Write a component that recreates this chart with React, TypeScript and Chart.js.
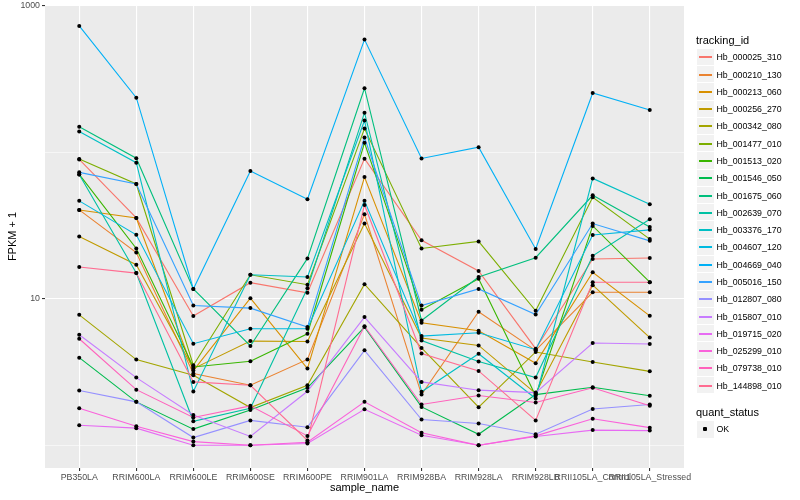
import React, { useEffect, useRef } from "react";
import { Chart, registerables } from "chart.js";

Chart.register(...registerables);

const categories = [
  "PB350LA", "RRIM600LA", "RRIM600LE", "RRIM600SE", "RRIM600PE", "RRIM901LA",
  "RRIM928BA", "RRIM928LA", "RRIM928LB", "RRII105LA_Control", "RRII105LA_Stressed",
];

const trackingIds = [
  "Hb_000025_310", "Hb_000210_130", "Hb_000213_060", "Hb_000256_270", "Hb_000342_080",
  "Hb_001477_010", "Hb_001513_020", "Hb_001546_050", "Hb_001675_060", "Hb_002639_070",
  "Hb_003376_170", "Hb_004607_120", "Hb_004669_040", "Hb_005016_150", "Hb_012807_080",
  "Hb_015807_010", "Hb_019715_020", "Hb_025299_010", "Hb_079738_010", "Hb_144898_010",
];

const seriesColors = [
  "#F8766D", "#EA8331", "#D89000", "#C09B00", "#A3A500", "#7CAE00", "#39B600", "#00BB4E",
  "#00BF7D", "#00C1A3", "#00BFC4", "#00BAE0", "#00B0F6", "#35A2FF", "#9590FF", "#C77CFF",
  "#E76BF3", "#FA62DB", "#FF62BC", "#FF6C91",
];

// FPKM + 1 per sample (same order as categories)
const hb000025_310 = [89.6, 35.7, 7.63, 12.9, 11.0, 90.7, 25.1, 15.5, 4.57, 18.7, 19.0];
const hb000210_130 = [40.5, 20.7, 3.09, 2.57, 3.86, 37.9, 2.22, 8.16, 4.45, 11.1, 11.1];
const hb000213_060 = [40.5, 35.7, 3.24, 10.1, 3.34, 67.9, 6.87, 6.06, 3.64, 15.2, 7.66];
const hb000256_270 = [26.7, 17.1, 3.34, 5.15, 5.12, 32.7, 5.41, 4.81, 2.26, 12.4, 5.44];
const hb000342_080 = [7.78, 3.85, 3.01, 1.81, 2.57, 12.6, 4.62, 1.82, 4.34, 3.71, 3.2];
const hb001477_010 = [90.3, 60.9, 3.52, 14.6, 12.5, 145.6, 22.1, 24.7, 8.29, 49.4, 25.6];
const hb001513_020 = [70.8, 22.1, 3.43, 3.75, 5.78, 116.4, 8.42, 13.7, 2.18, 31.5, 13.0];
const hb001546_050 = [3.97, 1.98, 1.29, 1.74, 2.47, 6.42, 1.83, 1.19, 2.22, 2.49, 2.18];
const hb001675_060 = [149.6, 91.4, 11.7, 4.77, 18.9, 274.6, 7.12, 14.1, 19.1, 51.0, 31.0];
const hb002639_070 = [70.8, 15.0, 1.46, 1.79, 11.8, 187, 5.2, 3.73, 2.9, 19.7, 35.0];
const hb003376_170 = [139, 85.1, 2.33, 14.6, 14.1, 165, 2.32, 4.22, 2.09, 66.5, 44.3];
const hb004607_120 = [46.7, 27.4, 4.94, 6.25, 6.25, 46.7, 5.57, 5.87, 4.5, 27.3, 29.6];
const hb004669_040 = [731, 236.6, 11.7, 74.6, 47.9, 590, 91, 108.6, 21.9, 254.6, 195];
const hb005016_150 = [73.1, 60.9, 9.0, 8.65, 6.42, 126.5, 9.0, 11.7, 7.82, 32.7, 24.9];
const hb012807_080 = [2.37, 1.98, 1.13, 1.48, 1.33, 4.45, 1.5, 1.41, 1.19, 1.77, 1.9];
const hb015807_010 = [5.69, 2.9, 1.61, 1.15, 2.34, 7.51, 2.71, 2.38, 2.29, 5.0, 4.92];
const hb019715_020 = [1.37, 1.31, 1.0, 1.0, 1.03, 1.76, 1.17, 1.0, 1.15, 1.27, 1.26];
const hb025299_010 = [1.79, 1.35, 1.06, 1.0, 1.05, 1.98, 1.22, 1.0, 1.16, 1.52, 1.32];
const hb079738_010 = [5.34, 2.4, 1.55, 1.86, 1.16, 6.5, 1.9, 2.19, 1.96, 2.47, 1.86];
const hb144898_010 = [16.5, 15.0, 2.71, 2.57, 1.08, 43.8, 4.24, 3.22, 1.48, 13.0, 13.0];

const seriesValues = [
  hb000025_310, hb000210_130, hb000213_060, hb000256_270, hb000342_080,
  hb001477_010, hb001513_020, hb001546_050, hb001675_060, hb002639_070,
  hb003376_170, hb004607_120, hb004669_040, hb005016_150, hb012807_080,
  hb015807_010, hb019715_020, hb025299_010, hb079738_010, hb144898_010,
];

const yGridValues = [1, 10, 100, 1000];
const yTickLabels = ["", "10", "", "1000"];
const yMajor = [10, 1000];
const quantStatus = ["OK"];

const FONT = '"Liberation Sans", Arial, Helvetica, sans-serif';

const panelBg = {
  id: "panelBg",
  beforeDraw(chart: any) {
    const { ctx, chartArea: a } = chart;
    ctx.save();
    ctx.fillStyle = "#EBEBEB";
    ctx.fillRect(a.left, a.top, a.right - a.left, a.bottom - a.top);
    ctx.restore();
  },
};

function ChartCanvas() {
  const ref = useRef<HTMLCanvasElement | null>(null);
  useEffect(() => {
    if (!ref.current) return;
    const lineSets = seriesValues.map((vals, i) => ({
      type: "line" as const,
      label: trackingIds[i],
      data: vals.map((v, j) => ({ x: j, y: v })),
      borderColor: seriesColors[i],
      backgroundColor: seriesColors[i],
      borderWidth: 1.1,
      pointRadius: 0,
      tension: 0,
      fill: false,
      order: 100 - i,
    }));
    const pointSets = seriesValues.map((vals, i) => ({
      type: "line" as const,
      label: trackingIds[i] + " " + quantStatus[0],
      data: vals.map((v, j) => ({ x: j, y: v })),
      showLine: false,
      borderColor: "#000000",
      backgroundColor: "#000000",
      pointRadius: 2,
      pointBorderWidth: 0,
      pointBackgroundColor: "#000000",
      order: 0,
    }));
    const chart = new Chart(ref.current, {
      type: "line",
      data: { datasets: [...lineSets, ...pointSets] as any },
      plugins: [panelBg],
      options: {
        responsive: false,
        maintainAspectRatio: false,
        animation: false,
        events: [],
        layout: { padding: { top: 5, right: 116, bottom: 0, left: 0 } },
        plugins: { legend: { display: false }, tooltip: { enabled: false }, title: { display: false } },
        scales: {
          x: {
            type: "linear",
            min: -0.6,
            max: categories.length - 1 + 0.6,
            afterBuildTicks: (scale: any) => {
              scale.ticks = categories.map((_, i) => ({ value: i }));
            },
            afterFit: (scale: any) => {
              scale.height = 32;
              scale.paddingLeft = 0;
              scale.paddingRight = 0;
            },
            border: { display: false },
            grid: {
              color: "#FFFFFF",
              lineWidth: 1.1,
              drawTicks: true,
              tickLength: 3,
              tickColor: "#333333",
              tickWidth: 1.1,
            },
            ticks: {
              autoSkip: false,
              maxRotation: 0,
              minRotation: 0,
              padding: 1,
              color: "#4D4D4D",
              font: { size: 8.8, family: FONT },
              callback: (v: any) => categories[v] ?? "",
            },
            title: {
              display: true,
              text: "sample_name",
              color: "#000000",
              font: { size: 11, family: FONT },
              padding: { top: 0, bottom: 5.1 },
            },
          },
          y: {
            type: "logarithmic",
            min: 0.72,
            max: 1016,
            afterBuildTicks: (scale: any) => {
              scale.ticks = yGridValues.map((v) => ({ value: v }));
            },
            afterFit: (scale: any) => {
              scale.width = 45;
              scale.paddingTop = 0;
              scale.paddingBottom = 0;
            },
            border: { display: false },
            grid: {
              color: "#FFFFFF",
              lineWidth: (c: any) => (c.tick && yMajor.includes(c.tick.value) ? 1.1 : 0.55),
              drawTicks: true,
              tickLength: 3,
              tickColor: (c: any) =>
                c.tick && yMajor.includes(c.tick.value) ? "#333333" : "rgba(0,0,0,0)",
              tickWidth: 1.1,
            },
            ticks: {
              autoSkip: false,
              padding: 2,
              color: "#4D4D4D",
              font: { size: 8.8, family: FONT },
              callback: (v: any) => {
                const k = yGridValues.indexOf(Number(v));
                return k >= 0 ? yTickLabels[k] : "";
              },
            },
            title: {
              display: true,
              text: "FPKM + 1",
              color: "#000000",
              font: { size: 11, family: FONT },
              padding: { top: 6.5, bottom: 0 },
            },
          },
        },
      } as any,
    });
    return () => chart.destroy();
  }, []);
  return (
    <canvas
      ref={ref}
      width={800}
      height={500}
      style={{ position: "absolute", left: 0, top: 0, width: 800, height: 500, display: "block" }}
    />
  );
}

function Legend() {
  const keyLeft = 697;
  const keyStep = 17.28;
  const firstCenter = 57.3;
  const textStyle = (cy: number, size: number): React.CSSProperties => ({
    position: "absolute",
    top: Math.round(cy) - 7,
    height: 14,
    lineHeight: "14px",
    fontSize: size,
    fontFamily: FONT,
    color: "#000000",
    whiteSpace: "nowrap",
  });
  const okCenter = 429;
  return (
    <div style={{ position: "absolute", left: 0, top: 0, width: 800, height: 500, pointerEvents: "none" }}>
      <div style={{ ...textStyle(40, 11), left: 696 }}>tracking_id</div>
      {trackingIds.map((id, i) => {
        const cy = firstCenter + keyStep * i;
        const top = Math.round(cy - keyStep / 2);
        const bottom = Math.round(cy + keyStep / 2);
        const lineTop = Math.round(cy) - 1;
        return (
          <React.Fragment key={id}>
            <div
              style={{
                position: "absolute",
                left: keyLeft,
                top: top,
                width: 17,
                height: bottom - top - 1,
                background: "#F2F2F2",
              }}
            />
            <div
              style={{
                position: "absolute",
                left: keyLeft + 2,
                top: lineTop,
                width: 13,
                height: 1.5,
                background: seriesColors[i],
              }}
            />
            <div style={{ ...textStyle(cy, 8.8), left: 716.5 }}>{id}</div>
          </React.Fragment>
        );
      })}
      <div style={{ ...textStyle(412, 11), left: 696 }}>quant_status</div>
      <div
        style={{
          position: "absolute",
          left: keyLeft,
          top: okCenter - 8,
          width: 17,
          height: 17,
          background: "#F2F2F2",
        }}
      />
      <div
        style={{
          position: "absolute",
          left: keyLeft + 6,
          top: okCenter - 2,
          width: 4,
          height: 4,
          borderRadius: 1,
          background: "#000000",
        }}
      />
      <div style={{ ...textStyle(okCenter, 8.8), left: 716.5 }}>{quantStatus[0]}</div>
    </div>
  );
}

export default function App() {
  return (
    <div
      style={{
        position: "absolute",
        left: 0,
        top: 0,
        width: 800,
        height: 500,
        background: "#FFFFFF",
        overflow: "hidden",
      }}
    >
      <ChartCanvas />
      <Legend />
    </div>
  );
}
